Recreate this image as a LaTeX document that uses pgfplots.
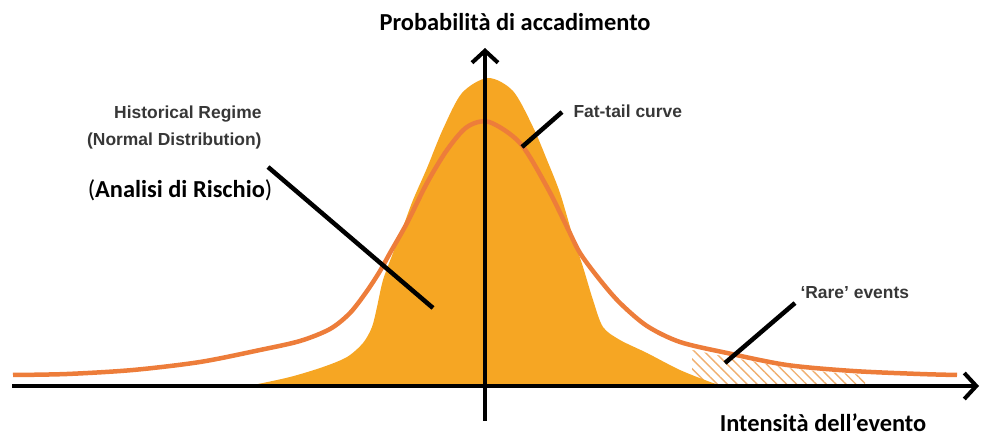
\documentclass[border=0pt]{standalone}
\usepackage{fontspec}
\setmainfont{Carlito}
\newfontfamily\helv{Liberation Sans}
\usepackage{pgfplots}
\pgfplotsset{compat=1.18}
\usetikzlibrary{arrows.meta,patterns.meta}
\definecolor{normfill}{RGB}{246,166,35}
\definecolor{fatline}{RGB}{237,125,58}
\definecolor{hatchcol}{RGB}{240,175,110}
\definecolor{labgray}{RGB}{55,55,55}
\begin{document}
\begin{tikzpicture}
\begin{axis}[
  width=983bp, height=439bp, scale only axis,
  xmin=-487, xmax=496, ymin=-53, ymax=386,
  hide axis, clip=false,
]
\path (rel axis cs:0,0) rectangle (rel axis cs:1,1);
% 'Rare' events hatch under the fat tail
\addplot[draw=none, pattern={Lines[angle=-45,distance=7bp,line width=1.4bp]}, pattern color=hatchcol]
  coordinates {(205,0) (205,36) (240,29) (270,24) (300,18) (340,14) (378,11) (378,0)} \closedcycle;
% Normal distribution (filled)
\addplot[draw=none, fill=normfill, smooth, tension=0.5] coordinates {
(-242,0) (-234,1) (-197,9) (-164,19) (-140,29) (-124,43) (-115,59) (-110,79) (-104,106)
(-94,133) (-84,159) (-74,186) (-60,218) (-44,257) (-25,293) (1,308)
(26,295) (46,259) (60,226) (73,193) (86,149) (96,119) (106,86) (116,59)
(133,46) (160,33) (193,16) (226,3) (238,0)} \closedcycle;
% Fat-tail curve
\addplot[fatline, line width=4.5bp, smooth, tension=0.5] coordinates {
(-474,11) (-420,12) (-354,16) (-287,24) (-227,36) (-187,45) (-157,57) (-137,73)
(-120,95) (-107,115) (-97,133) (-80,163) (-60,203) (-40,236) (-20,259) (2,264)
(33,243) (60,199) (80,159) (93,133) (113,106) (133,83) (160,60) (193,44)
(240,33) (300,21) (366,15) (433,12) (470,11)};
% axes
\addplot[black, line width=4bp, -{Straight Barb[length=12bp,width=26bp]}] coordinates {(-475,0) (492,0)};
\addplot[black, line width=4bp, -{Straight Barb[length=12bp,width=26bp]}] coordinates {(-2,-35) (-2,338)};
% leader lines
\addplot[black, line width=4.5bp] coordinates {(-219,219) (-54,78)};
\addplot[black, line width=4.5bp] coordinates {(75,274) (35,239)};
\addplot[black, line width=4.5bp] coordinates {(308,83) (238,23)};
% labels
\node[font=\bfseries\fontsize{24.5}{28}\selectfont] at (axis cs:28,364) {Probabilità di accadimento};
\node[font=\bfseries\fontsize{24.5}{28}\selectfont] at (axis cs:336,-37) {Intensità dell’evento};
\node[font=\fontsize{24.5}{28}\selectfont] at (axis cs:-307,196) {(\textbf{Analisi di Rischio})};
\node[font=\helv\bfseries\fontsize{17.5}{20}\selectfont, text=labgray, anchor=base east] at (axis cs:-222,267) {Historical Regime};
\node[font=\helv\bfseries\fontsize{17.5}{20}\selectfont, text=labgray, anchor=base east] at (axis cs:-222,240) {(Normal Distribution)};
\node[font=\helv\bfseries\fontsize{17.5}{20}\selectfont, text=labgray, anchor=base west] at (axis cs:83,268) {Fat-tail curve};
\node[font=\helv\bfseries\fontsize{17.5}{20}\selectfont, text=labgray, anchor=base west] at (axis cs:310,87) {‘Rare’ events};
\end{axis}
\end{tikzpicture}
\end{document}
